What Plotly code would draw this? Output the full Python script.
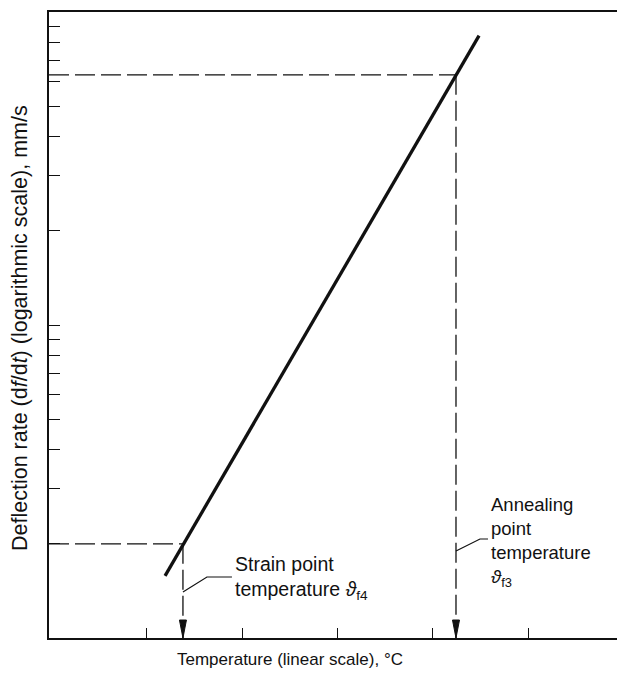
import plotly.graph_objects as go

# ---- data ----
x_ticks = [400, 450, 500, 550, 600]                 # temperature ticks (no labels)
y_ticks = [2, 3, 4, 5, 6, 7, 8, 9, 10, 20, 30, 40, 50, 60, 70, 80, 90]  # log minor ticks
x_range = [348.6, 646.7]
y_range_log = [0, 2]                                # 1 .. 100 mm/s

line_temp = [409.5, 574.3]
line_rate = [1.58, 84.0]

strain_temp = 418.9
strain_rate = 2.0
anneal_temp = 562.2
anneal_rate = 63.0

strain_label = "Strain point<br>temperature <i>ϑ</i><sub>f4</sub>"
anneal_label = "Annealing<br>point<br>temperature<br><i>ϑ</i><sub>f3</sub>"
x_title = "Temperature (linear scale), °C"
y_title = "Deflection rate (d<i>f</i>/d<i>t</i>) (logarithmic scale), mm/s"

# ---- layout geometry ----
W, H = 617, 681
ML, MR, MT, MB = 49, 0, 12, 43
plot_w = W - ML - MR
plot_h = H - MT - MB
deg_per_px = (x_range[1] - x_range[0]) / plot_w
dec_per_px = (y_range_log[1] - y_range_log[0]) / plot_h
y_min = 10 ** y_range_log[0]

FONT = "Liberation Sans, Arial, Helvetica, sans-serif"
BLACK = "#111111"

fig = go.Figure()

# main line
fig.add_trace(go.Scatter(x=line_temp, y=line_rate, mode="lines",
                         line=dict(color=BLACK, width=3.3), hoverinfo="skip"))

dash = "20px,6px"
for t, r in [(strain_temp, strain_rate), (anneal_temp, anneal_rate)]:
    # horizontal dashed line from the y axis to the curve
    fig.add_trace(go.Scatter(x=[x_range[0], t], y=[r, r], mode="lines",
                             line=dict(color=BLACK, width=1.3, dash=dash), hoverinfo="skip"))
    # vertical dashed line down to the temperature axis
    fig.add_trace(go.Scatter(x=[t, t], y=[r, y_min], mode="lines",
                             line=dict(color=BLACK, width=1.3, dash=dash), hoverinfo="skip"))
    # arrowhead (narrow filled triangle, tip on the axis)
    hw = 3.5 * deg_per_px
    top = 10 ** (y_range_log[0] + 18 * dec_per_px)
    fig.add_trace(go.Scatter(x=[t - hw, t + hw, t, t - hw], y=[top, top, y_min, top],
                             mode="lines", fill="toself", fillcolor=BLACK,
                             line=dict(color=BLACK, width=1), hoverinfo="skip"))

# leader lines from labels to the dashed verticals
def lead(t, y_start_px_above_axis, dx1, dy1, dx2):
    y0 = y_range_log[0] + y_start_px_above_axis * dec_per_px
    y1 = y0 + dy1 * dec_per_px
    return ([t, t + dx1 * deg_per_px, t + dx2 * deg_per_px],
            [10 ** y0, 10 ** y1, 10 ** y1])

lx, ly = lead(strain_temp, 46, 24, 15, 49)
fig.add_trace(go.Scatter(x=lx, y=ly, mode="lines", line=dict(color=BLACK, width=1.2),
                         hoverinfo="skip"))
lx, ly = lead(anneal_temp, 87, 24, 12, 32)
fig.add_trace(go.Scatter(x=lx, y=ly, mode="lines", line=dict(color=BLACK, width=1.2),
                         hoverinfo="skip"))

def px2paper_x(px):
    return (px - ML) / plot_w

def px2paper_y(py):
    return (H - MB - py) / plot_h

annotations = [
    dict(text=strain_label, x=px2paper_x(233), y=px2paper_y(551), xref="paper", yref="paper",
         xanchor="left", yanchor="top", align="left", showarrow=False,
         font=dict(family=FONT, size=19.5, color=BLACK)),
    dict(text=anneal_label, x=px2paper_x(489), y=px2paper_y(492), xref="paper", yref="paper",
         xanchor="left", yanchor="top", align="left", showarrow=False,
         font=dict(family=FONT, size=18.5, color=BLACK)),
    dict(text=x_title, x=px2paper_x(290), y=px2paper_y(659), xref="paper", yref="paper",
         xanchor="center", yanchor="middle", showarrow=False,
         font=dict(family=FONT, size=17, color=BLACK)),
    dict(text=y_title, x=px2paper_x(20), y=px2paper_y(328), xref="paper", yref="paper",
         xanchor="center", yanchor="middle", textangle=-90, showarrow=False,
         font=dict(family=FONT, size=21.5, color=BLACK)),
]

fig.update_layout(
    width=W, height=H,
    margin=dict(l=ML, r=MR, t=MT, b=MB, pad=0),
    paper_bgcolor="white", plot_bgcolor="white",
    showlegend=False,
    annotations=annotations,
    xaxis=dict(range=x_range, showline=True, linecolor=BLACK, linewidth=2, mirror=True,
               ticks="inside", tickvals=x_ticks, ticklen=10, tickwidth=1.3, tickcolor=BLACK,
               showticklabels=False, showgrid=False, zeroline=False, fixedrange=True),
    yaxis=dict(type="log", range=y_range_log, showline=True, linecolor=BLACK, linewidth=2,
               mirror=False, ticks="inside", tickvals=y_ticks, ticklen=11, tickwidth=1.3,
               tickcolor=BLACK, showticklabels=False, showgrid=False, zeroline=False,
               fixedrange=True),
)

fig.write_html("out.html", config={"displayModeBar": False},
               post_script="document.body.style.margin='0';document.body.style.overflow='hidden';")
